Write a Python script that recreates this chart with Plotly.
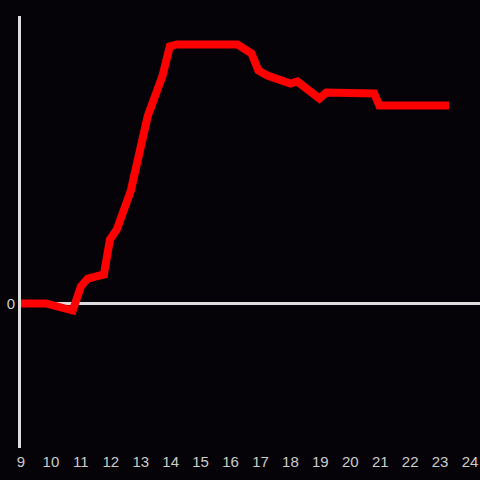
import plotly.graph_objects as go

x_vals = [9.0, 9.83, 10.73, 11.0, 11.23, 11.77, 11.97, 12.2, 12.67, 12.77, 12.97, 13.23,
          13.73, 13.97, 14.2, 16.23, 16.7, 16.93, 17.23, 17.73, 18.0, 18.23, 18.97, 19.2,
          19.77, 20.8, 20.97, 23.3]
y_vals = [0.0, 0.0, -0.7, 1.7, 2.5, 2.9, 6.4, 7.4, 11.3, 12.6, 16.0, 18.7,
          22.8, 25.7, 25.9, 25.9, 25.0, 23.3, 22.8, 22.3, 22.0, 22.2, 20.5, 21.1,
          21.0, 21.0, 19.8, 19.8]
x_ticks = list(range(9, 25))

fig = go.Figure()
fig.add_trace(go.Scatter(x=x_vals, y=y_vals, mode="lines", cliponaxis=False,
                         line=dict(color="#ff0000", width=8), hoverinfo="skip"))

bg = "#050307"
fig.update_layout(
    width=480, height=480,
    margin=dict(l=21, r=0, t=16, b=32),
    paper_bgcolor=bg, plot_bgcolor=bg,
    showlegend=False,
    font=dict(family="Liberation Sans, Arial, sans-serif", size=15, color="#cccccc"),
    xaxis=dict(range=[9, 24.333], tickvals=x_ticks, ticktext=[str(t) for t in x_ticks],
               showgrid=False, zeroline=False, showline=False, ticks="",
               ticklabelstandoff=3,
               tickfont=dict(color="#cccccc", size=15)),
    yaxis=dict(range=[-14.45, 28.75], tickvals=[0], ticktext=["0"],
               showgrid=False, zeroline=True, zerolinecolor="#dddddd", zerolinewidth=3,
               showline=True, linecolor="#dddddd", linewidth=3, ticks="",
               tickfont=dict(color="#cccccc", size=15)),
)
fig.write_html(
    "out.html",
    config={"displayModeBar": False},
    post_script="document.body.style.margin='0';document.body.style.background='#050307';document.body.style.overflow='hidden';",
)
